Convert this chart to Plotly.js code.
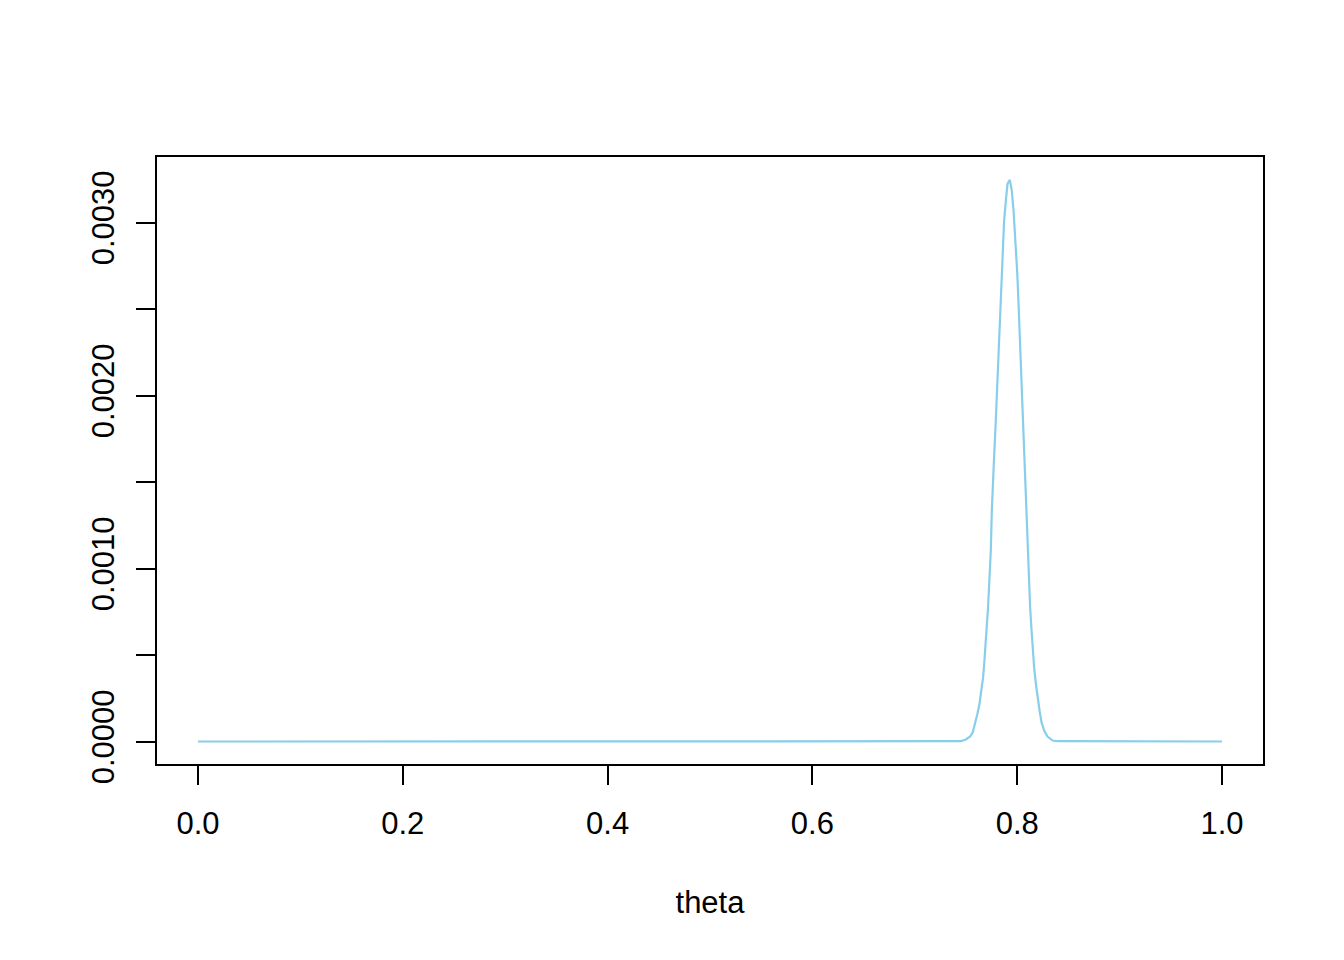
<!DOCTYPE html>
<html>
<head>
<meta charset="utf-8">
<script src="https://cdn.plot.ly/plotly-3.0.1.min.js"></script>
<style>html,body{margin:0;padding:0;background:#fff;}#chart{width:1344px;height:960px;}</style>
</head>
<body>
<div id="chart"></div>
<script>
// Posterior values
var theta = [0.0, 0.7449, 0.7498, 0.7540, 0.7566, 0.7592, 0.7612, 0.7632, 0.7651, 0.7667, 0.7680,
  0.7693, 0.7703, 0.7713, 0.7722, 0.7732, 0.7742, 0.7752, 0.7761, 0.7774, 0.7788,
  0.7801, 0.7813, 0.7827, 0.7837, 0.7847, 0.7852, 0.7859, 0.7872, 0.7889, 0.7905,
  0.7928,
  0.7947, 0.7964, 0.7977, 0.7986, 0.7999, 0.8009, 0.8018, 0.8028, 0.8035, 0.8045,
  0.8055, 0.8065, 0.8074, 0.8084, 0.8094, 0.8104, 0.8116, 0.8126, 0.8140, 0.8152,
  0.8165, 0.8182, 0.8198, 0.8218, 0.8237, 0.8263, 0.8296, 0.8345, 0.8394, 1.0];
var density = [0.0, 0.0000017, 0.0000116, 0.0000289, 0.0000538, 0.0001116, 0.0001618, 0.0002197, 0.0002948, 0.0003717, 0.0004682,
  0.0005665, 0.0006607, 0.0007572, 0.0008555, 0.0009884, 0.0011040, 0.0013353, 0.0014913, 0.0016434, 0.0018168,
  0.0020116, 0.0021832, 0.0024162, 0.0025318, 0.0026838, 0.0027994, 0.0028960, 0.0030116, 0.0031272, 0.0032237,
  0.0032468,
  0.0031850, 0.0030694, 0.0029538, 0.0028382, 0.0027225, 0.0025896, 0.0024526, 0.0023179, 0.0021850, 0.0020116,
  0.0018555, 0.0016821, 0.0015277, 0.0013757, 0.0012387, 0.0010867, 0.0009133, 0.0007763, 0.0006416, 0.0005260,
  0.0004295, 0.0003335, 0.0002561, 0.0001792, 0.0001116, 0.0000636, 0.0000289, 0.0000058, 0.0000017, 0.0];

var xTickVals = [0.0, 0.2, 0.4, 0.6, 0.8, 1.0];
var xTickText = ["0.0", "0.2", "0.4", "0.6", "0.8", "1.0"];
var yTickVals = [0.0, 0.0005, 0.0010, 0.0015, 0.0020, 0.0025, 0.0030];
var yTickText = ["0.0000", "", "0.0010", "", "0.0020", "", "0.0030"];

var trace = {
  x: theta, y: density, type: 'scatter', mode: 'lines',
  line: {color: '#87CEEB', width: 2.2}, hoverinfo: 'skip'
};

var fontFam = 'Liberation Sans, Arial, sans-serif';
var layout = {
  width: 1344, height: 960,
  margin: {l: 157, r: 81, t: 157, b: 196, pad: 0},
  paper_bgcolor: '#fff', plot_bgcolor: '#fff',
  showlegend: false,
  font: {family: fontFam, size: 31, color: '#000'},
  xaxis: {
    range: [-0.04, 1.04], tickmode: 'array', tickvals: xTickVals, ticktext: xTickText,
    showgrid: false, zeroline: false, showline: true, mirror: true, linecolor: '#000', linewidth: 2,
    ticks: 'outside', ticklen: 19, tickwidth: 2, tickcolor: '#000',
    tickfont: {family: fontFam, size: 31, color: '#000'}, ticklabelstandoff: 12,
    title: {text: 'theta', font: {family: fontFam, size: 31, color: '#000'}, standoff: 51}
  },
  yaxis: {
    range: [-0.00013, 0.003379], tickmode: 'array', tickvals: yTickVals, ticktext: yTickText,
    showgrid: false, zeroline: false, showline: true, mirror: true, linecolor: '#000', linewidth: 2,
    ticks: 'outside', ticklen: 19, tickwidth: 2, tickcolor: '#000', tickangle: -90,
    tickfont: {family: fontFam, size: 31, color: '#000'}, ticklabelstandoff: 10
  }
};

Plotly.newPlot('chart', [trace], layout, {staticPlot: true, displayModeBar: false});
</script>
</body>
</html>
